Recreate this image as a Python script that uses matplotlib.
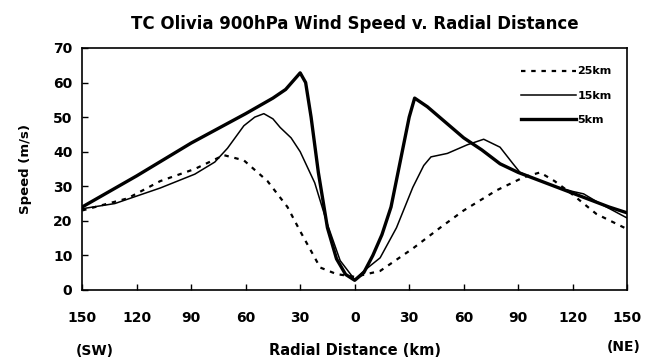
import matplotlib.pyplot as plt
from matplotlib.ticker import FuncFormatter

plt.rcParams['font.family'] = ['DejaVu Sans']
plt.rcParams['font.weight'] = 'bold'

# radial distance (km), negative = SW side, positive = NE side
km_5 = [-150, -120, -90, -60, -45, -38, -33, -30, -27, -24, -20, -15, -10, -5, 0,
        5, 10, 15, 20, 25, 30, 33, 40, 50, 60, 70, 80, 90, 100, 110, 120, 130, 140, 150]
spd_5 = [24, 33, 42.5, 51, 55.5, 58, 61, 62.8, 60, 50, 34, 18, 9, 4.5, 2.8,
         5, 10, 16, 24, 37, 50, 55.5, 53, 48.5, 44, 40.5, 36.5, 34, 32, 30, 28, 26, 24, 22.3]

km_15 = [-150, -132, -107, -88, -77, -70, -61, -55, -50, -45, -41, -35, -30, -22, -15, -8, 0,
         5, 14, 23, 32, 38, 42, 51, 62, 71, 80, 87, 91, 100, 110, 120, 126, 135, 150]
spd_15 = [23.5, 25, 29.5, 33.5, 37, 41, 47.5, 50, 51, 49.5, 47, 44, 40, 31, 19, 8.5, 3,
          5.5, 9.3, 18, 29.7, 36, 38.5, 39.5, 42, 43.6, 41.3, 36.6, 34, 32, 30, 28.5, 27.8, 25, 20.8]

km_25 = [-150, -125, -107, -88, -72, -61, -48, -37, -30, -19, -10, 0,
         14, 32, 47, 60, 78, 93, 102, 110, 119, 133, 150]
spd_25 = [23, 26.5, 31.5, 35, 39, 37.5, 31.5, 24, 17, 6.5, 4.6, 3.8,
          5.5, 12, 18, 23, 28.8, 32.6, 34, 31.5, 28, 22, 17.6]

xticks = [-150, -120, -90, -60, -30, 0, 30, 60, 90, 120, 150]
yticks = [0, 10, 20, 30, 40, 50, 60, 70]

fig = plt.figure(figsize=(6.52, 3.58), dpi=100)
ax = fig.add_axes([0.126, 0.19, 0.836, 0.676])

ax.plot(km_25, spd_25, color='black', lw=1.6, dashes=(2, 2.6), label='25km')
ax.plot(km_15, spd_15, color='black', lw=1.1, label='15km')
ax.plot(km_5, spd_5, color='black', lw=2.4, label='5km')

ax.set_xlim(-150, 150)
ax.set_ylim(0, 70)
ax.set_xticks(xticks)
ax.set_yticks(yticks)
ax.xaxis.set_major_formatter(FuncFormatter(lambda v, p: f"{abs(int(v))}"))
ax.tick_params(direction='in', length=4, labelsize=10, width=1)
ax.tick_params(axis='x', pad=15)
ax.tick_params(axis='y', pad=7)
for s in ax.spines.values():
    s.set_linewidth(1.2)

ax.set_ylabel('Speed (m/s)', fontsize=9.5, fontweight='bold', labelpad=15)
ax.set_title('TC Olivia 900hPa Wind Speed v. Radial Distance', fontsize=12,
             fontweight='bold', pad=14)
fig.text(0.545, 0.022, 'Radial Distance (km)', ha='center', va='center',
         fontsize=10.5, fontweight='bold')
fig.text(0.146, 0.02, '(SW)', ha='center', va='center', fontsize=10, fontweight='bold')
fig.text(0.957, 0.03, '(NE)', ha='center', va='center', fontsize=10, fontweight='bold')

leg = ax.legend(loc='upper right', frameon=False, fontsize=8, handlelength=5.0,
                handletextpad=0.1, labelspacing=1.3, bbox_to_anchor=(0.99, 0.965))

fig.savefig('out.png', dpi=100)
